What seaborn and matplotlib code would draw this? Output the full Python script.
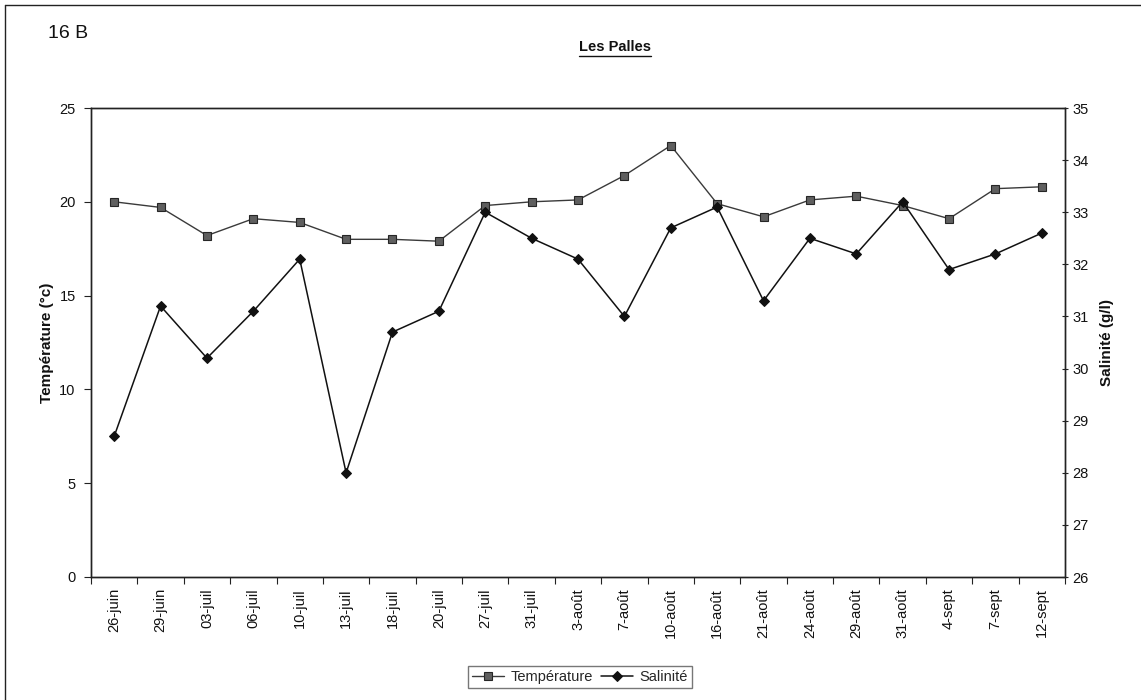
import numpy as np
import pandas as pd
import matplotlib
matplotlib.use("Agg")
import matplotlib.pyplot as plt
from matplotlib.lines import Line2D
import seaborn as sns

# Sampling dates and measurements at Les Palles
dates = ["26-juin", "29-juin", "03-juil", "06-juil", "10-juil", "13-juil", "18-juil",
         "20-juil", "27-juil", "31-juil", "3-août", "7-août", "10-août", "16-août",
         "21-août", "24-août", "29-août", "31-août", "4-sept", "7-sept", "12-sept"]
temperature = [20.0, 19.7, 18.2, 19.1, 18.9, 18.0, 18.0, 17.9, 19.8, 20.0, 20.1,
               21.4, 23.0, 19.9, 19.2, 20.1, 20.3, 19.8, 19.1, 20.7, 20.8]
salinity = [28.7, 31.2, 30.2, 31.1, 32.1, 28.0, 30.7, 31.1, 33.0, 32.5, 32.1,
            31.0, 32.7, 33.1, 31.3, 32.5, 32.2, 33.2, 31.9, 32.2, 32.6]
temp_ticks = [0, 5, 10, 15, 20, 25]
sal_ticks = list(range(26, 36))

sns.set_theme(style="white")
plt.rcParams["font.family"] = ["Liberation Sans", "DejaVu Sans"]

W, H = 1141, 700
fig = plt.figure(figsize=(W / 100, H / 100), dpi=100)
ax = fig.add_axes([91 / W, 1 - 577 / H, (1065 - 91) / W, (577 - 108) / H])
ax2 = ax.twinx()

n = len(dates)
df = pd.DataFrame({"pos": np.arange(n), "temp": temperature, "sal": salinity})

sns.lineplot(data=df, x="pos", y="temp", ax=ax, color="#3a3a3a", lw=1.0,
             marker="s", markersize=6.2, markerfacecolor="#5f5f5f",
             markeredgecolor="#262626", markeredgewidth=0.8, legend=False)
sns.lineplot(data=df, x="pos", y="sal", ax=ax2, color="#111111", lw=1.1,
             marker="D", markersize=5, markerfacecolor="#111111",
             markeredgecolor="#111111", legend=False)

ax.set_xlim(-0.5, n - 0.5)
ax.set_ylim(0, 25)
ax2.set_ylim(26, 35)
ax.set_yticks(temp_ticks)
ax2.set_yticks(sal_ticks)

ax.set_xticks(np.arange(n))
ax.set_xticklabels(dates, rotation=90)
ax.set_xticks(np.arange(n + 1) - 0.5, minor=True)
ax.tick_params(axis="x", which="major", bottom=True, length=0, pad=8,
               labelsize=10.5, labelcolor="#111")
ax.tick_params(axis="x", which="minor", bottom=True, length=5, width=0.8,
               direction="out", color="#222")
ax.tick_params(axis="y", left=True, length=5, width=0.8, direction="out",
               pad=6, labelsize=10.5, labelcolor="#111", color="#222")
ax2.tick_params(axis="y", right=True, length=5, width=0.8, direction="inout",
                pad=3, labelsize=10.5, labelcolor="#111", color="#222")

ax.set_xlabel("")
ax2.set_xlabel("")
ax.set_ylabel("Température (°c)", fontsize=11, fontweight="bold", labelpad=4,
              color="#111")
ax2.set_ylabel("Salinité (g/l)", fontsize=11, fontweight="bold", labelpad=8,
               color="#111")

for a in (ax, ax2):
    for sp in a.spines.values():
        sp.set_color("#222")
        sp.set_linewidth(1.0)
ax.grid(False)
ax2.grid(False)

handles = [ax.lines[0], ax2.lines[0]]
fig.legend(handles, ["Température", "Salinité"], loc="center",
           bbox_to_anchor=(580 / W, 1 - 677 / H), ncol=2, frameon=True,
           fancybox=False, edgecolor="#555555", fontsize=10.5,
           handlelength=2.2, columnspacing=0.6, handletextpad=0.4,
           borderpad=0.3, borderaxespad=0)

# Headings
fig.text(48 / W, 1 - 33 / H, "16 B", ha="left", va="center", fontsize=14,
         color="#111")
title = fig.text(615 / W, 1 - 47 / H, "Les Palles", ha="center", va="center",
                 fontsize=10.5, fontweight="bold", color="#111")
fig.canvas.draw()
bb = title.get_window_extent(renderer=fig.canvas.get_renderer())
uy = (bb.y0 - 1.5) / H
fig.add_artist(Line2D([bb.x0 / W, bb.x1 / W], [uy, uy], transform=fig.transFigure,
                      color="#111", lw=1.0))

# Outer chart frame
fig.add_artist(Line2D([5 / W, 5 / W], [0, 1 - 5 / H], transform=fig.transFigure,
                      color="#222", lw=1.0))
fig.add_artist(Line2D([5 / W, 1], [1 - 5 / H, 1 - 5 / H], transform=fig.transFigure,
                      color="#222", lw=1.0))

fig.savefig("out.png", dpi=100)
